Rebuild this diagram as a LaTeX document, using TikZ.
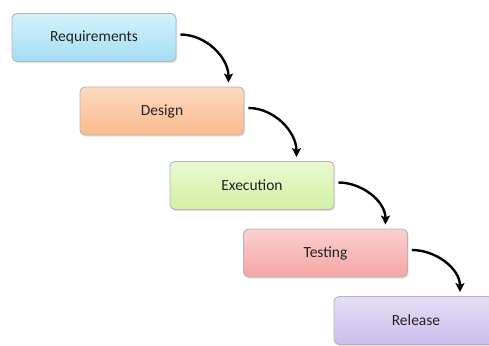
\documentclass[tikz,border=0pt]{standalone}
\usepackage{fontspec}
\setmainfont{Carlito}
\usetikzlibrary{arrows.meta,shadows}
\definecolor{reqtop}{HTML}{D3F2FC}
\definecolor{reqbot}{HTML}{A6DDF3}
\definecolor{destop}{HTML}{FDD9C0}
\definecolor{desbot}{HTML}{F9BB8F}
\definecolor{exetop}{HTML}{EAF9D2}
\definecolor{exebot}{HTML}{D3F0A4}
\definecolor{testop}{HTML}{FCD0D0}
\definecolor{tesbot}{HTML}{F5A5A5}
\definecolor{reltop}{HTML}{E6DEF7}
\definecolor{relbot}{HTML}{CCBDEB}
\definecolor{boxline}{HTML}{B4B4B4}
\definecolor{txt}{HTML}{222222}
\tikzset{
  phase/.style={rounded corners=5pt, draw=boxline, line width=0.9pt,
    minimum width=164pt, minimum height=48pt, inner sep=0pt,
    font=\fontsize{15.5}{17}\selectfont, text=txt,
    drop shadow={opacity=0.22, shadow xshift=1.2pt, shadow yshift=-1.6pt}},
  flow/.style={line width=2.4pt, -{Stealth[length=9pt,width=9pt,inset=2pt]},
    out=0, in=90, looseness=0.95}
}
\begin{document}
\begin{tikzpicture}[x=1pt,y=-1pt]
  \useasboundingbox (0,0) rectangle (489,345);
  \begin{scope}
  \clip (0,0) rectangle (489,345);
  \node[phase, top color=reqtop, bottom color=reqbot] (req) at (94,37.5) {Requirements};
  \node[phase, top color=destop, bottom color=desbot] (des) at (162,111) {Design};
  \node[phase, top color=exetop, bottom color=exebot] (exe) at (252,185.5) {Execution};
  \node[phase, top color=testop, bottom color=tesbot] (tes) at (325.5,253) {Testing};
  \node[phase, top color=reltop, bottom color=relbot] (rel) at (416,320.5) {Release};
  \end{scope}
  \draw[flow] ([xshift=4pt,yshift=3pt]req.east) to ([xshift=52pt,yshift=4pt]req.east |- des.north);
  \draw[flow] ([xshift=4pt,yshift=3pt]des.east) to ([xshift=52pt,yshift=4pt]des.east |- exe.north);
  \draw[flow] ([xshift=4pt,yshift=3pt]exe.east) to ([xshift=51pt,yshift=4pt]exe.east |- tes.north);
  \draw[flow] ([xshift=4pt,yshift=3pt]tes.east) to ([xshift=52pt,yshift=4pt]tes.east |- rel.north);
\end{tikzpicture}
\end{document}
